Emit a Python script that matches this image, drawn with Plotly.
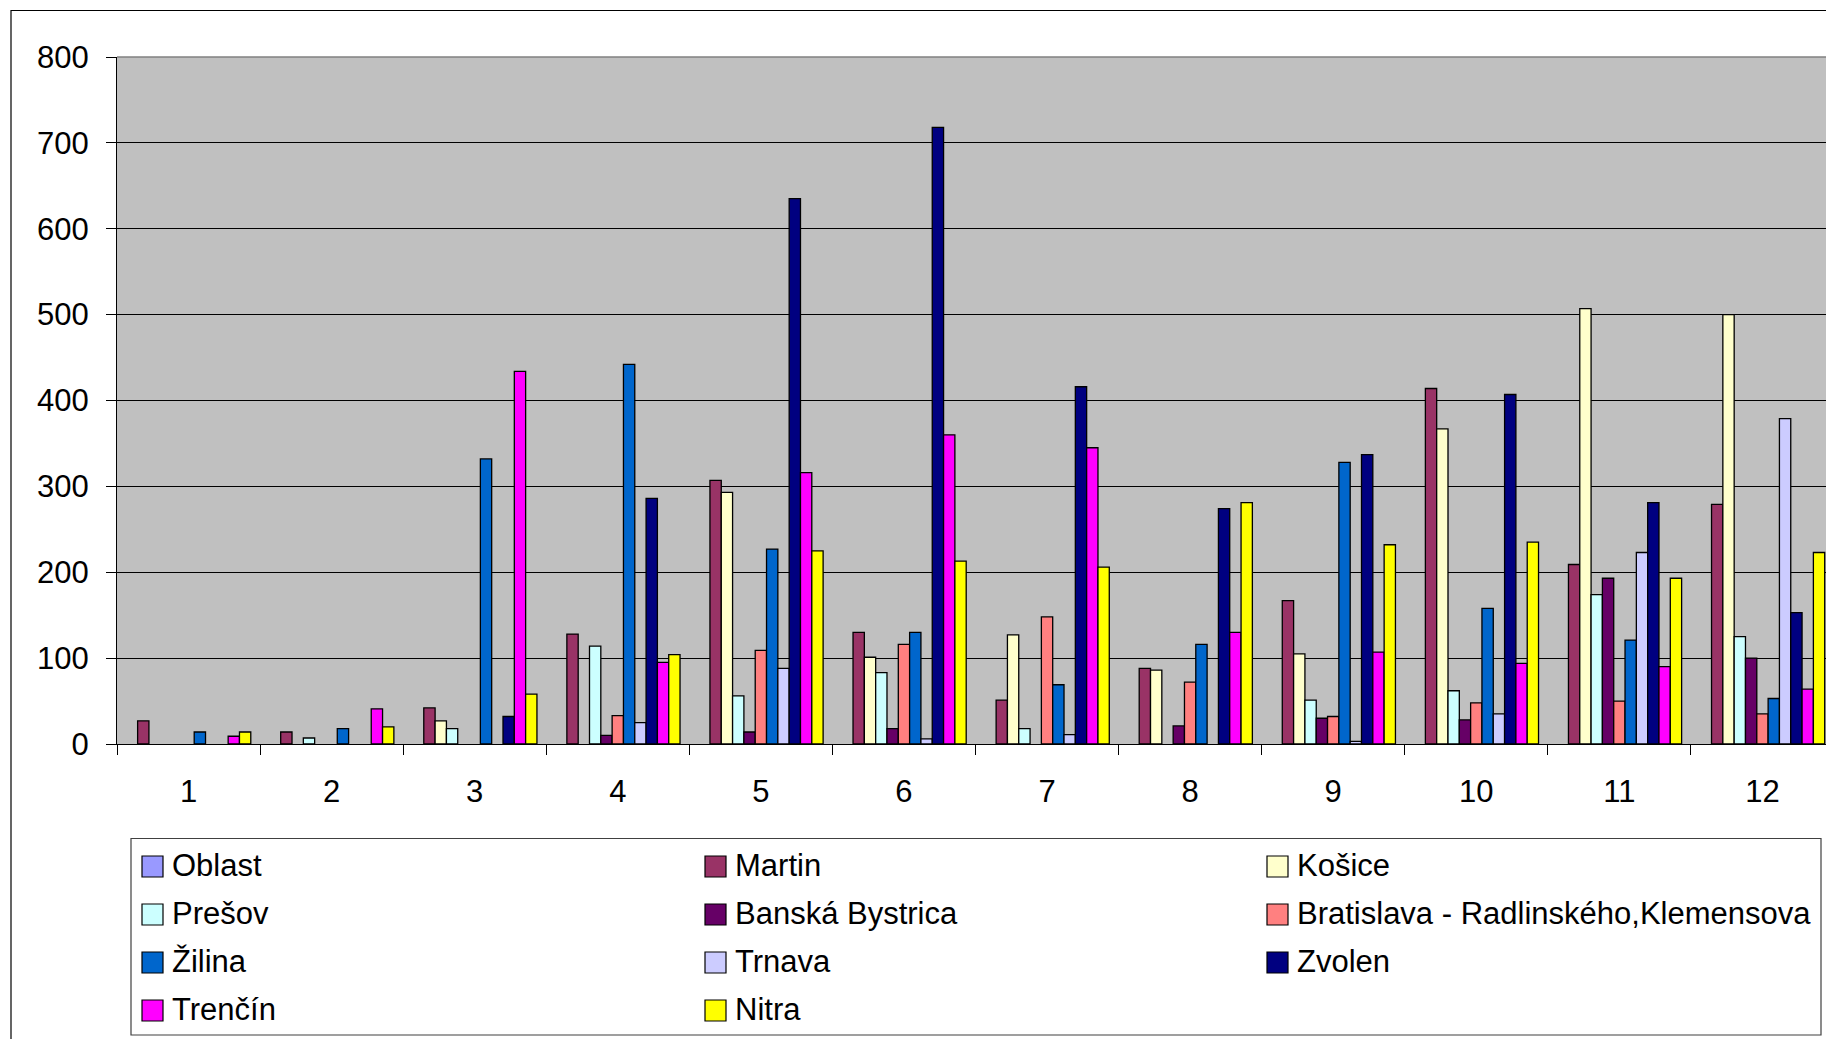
import plotly.graph_objects as go

# ---------------- data ----------------
categories = ["1", "2", "3", "4", "5", "6", "7", "8", "9", "10", "11", "12"]
series_names = ["Oblast", "Martin", "Košice", "Prešov", "Banská Bystrica",
                "Bratislava - Radlinského,Klemensova", "Žilina", "Trnava",
                "Zvolen", "Trenčín", "Nitra"]
oblast = [None, None, None, None, None, None, None, None, None, None, None, None]
martin = [27, 14, 42, 128, 307, 130, 51, 88, 167, 414, 209, 279]
kosice = [None, None, 27, None, 293, 101, 127, 86, 105, 367, 507, 500]
presov = [None, 7, 18, 114, 56, 83, 18, None, 51, 62, 174, 125]
banska_bystrica = [None, None, None, 10, 14, 18, None, 21, 30, 28, 193, 100]
bratislava = [None, None, None, 33, 109, 116, 148, 72, 32, 48, 50, 35]
zilina = [14, 18, 332, 442, 227, 130, 69, 116, 328, 158, 121, 53]
trnava = [None, None, None, 25, 88, 6, 11, None, 3, 35, 223, 379]
zvolen = [None, None, 32, 286, 635, 718, 416, 274, 337, 407, 281, 153]
trencin = [9, 41, 434, 95, 316, 360, 345, 130, 107, 94, 90, 64]
nitra = [14, 20, 58, 104, 225, 213, 206, 281, 232, 235, 193, 223]
y_tick_values = [0, 100, 200, 300, 400, 500, 600, 700, 800]

series_values = [oblast, martin, kosice, presov, banska_bystrica, bratislava,
                 zilina, trnava, zvolen, trencin, nitra]
colors = ["#9999FF", "#993366", "#FFFFCC", "#CCFFFF", "#660066", "#FF8080",
          "#0066CC", "#CCCCFF", "#000080", "#FF00FF", "#FFFF00"]

# ---------------- geometry (page pixels; page body has an 8px margin) ----------------
OFF = 8
W_FIG, H_FIG = 1834 - OFF, 1039 - OFF
PLOT_L, PLOT_T, PLOT_B = 117, 57, 744   # page coordinates of plot area
L = PLOT_L - OFF
T = PLOT_T - OFF
B = H_FIG - (PLOT_B - OFF)
PW = W_FIG - L
PH = H_FIG - T - B
FONT = "Liberation Sans, Arial, sans-serif"


def px_x(px):
    """page x pixel -> paper x"""
    return (px - OFF - L) / PW


def px_y(py):
    """page y pixel -> paper y"""
    return (T + PH - (py - OFF)) / PH


fig = go.Figure()
for name, vals, col in zip(series_names, series_values, colors):
    fig.add_trace(go.Bar(
        name=name, x=categories, y=vals,
        marker=dict(color=col, line=dict(color="#000000", width=1.3)),
        showlegend=False,
    ))

shapes = []
annotations = []

# outer chart border
shapes.append(dict(type="rect", xref="paper", yref="paper",
                   x0=px_x(11), x1=px_x(1850), y0=px_y(10.5), y1=px_y(1060),
                   line=dict(color="#000000", width=1.2), fillcolor="rgba(0,0,0,0)",
                   layer="above"))
# plot-area top border (grey)
shapes.append(dict(type="line", xref="paper", yref="paper",
                   x0=0, x1=1.01, y0=1, y1=1,
                   line=dict(color="#808080", width=1.5), layer="above"))

# legend box
shapes.append(dict(type="rect", xref="paper", yref="paper",
                   x0=px_x(131), x1=px_x(1821), y0=px_y(838.5), y1=px_y(1035),
                   line=dict(color="#404040", width=1.2), fillcolor="#FFFFFF",
                   layer="above"))
col_x = [142, 705, 1267]
row_y0, row_dy = 866.5, 48
sq = 21
for i, (name, col) in enumerate(zip(series_names, colors)):
    r, c = divmod(i, 3)
    x0 = col_x[c]
    yc = row_y0 + r * row_dy
    shapes.append(dict(type="rect", xref="paper", yref="paper",
                       x0=px_x(x0), x1=px_x(x0 + sq),
                       y0=px_y(yc - sq / 2), y1=px_y(yc + sq / 2),
                       line=dict(color="#000000", width=1.2), fillcolor=col,
                       layer="above"))
    annotations.append(dict(xref="paper", yref="paper",
                            x=px_x(x0 + 28), y=px_y(yc - 1),
                            xanchor="left", yanchor="middle",
                            text=name, showarrow=False,
                            font=dict(family=FONT, size=31, color="#000000")))

fig.update_layout(
    width=W_FIG, height=H_FIG,
    margin=dict(l=L, r=0, t=T, b=B, pad=0),
    paper_bgcolor="#FFFFFF",
    plot_bgcolor="#C0C0C0",
    barmode="group",
    bargap=0.13,
    bargroupgap=0,
    showlegend=False,
    font=dict(family=FONT, size=31, color="#000000"),
    shapes=shapes,
    annotations=annotations,
)
fig.update_xaxes(
    type="category", range=[-0.5, 11.5], automargin=False,
    showgrid=False, zeroline=False,
    showline=True, linecolor="#000000", linewidth=1,
    ticks="outside", tickson="boundaries", ticklen=10, tickcolor="#000000",
    tickwidth=1, ticklabelstandoff=20,
    tickfont=dict(family=FONT, size=31, color="#000000"),
)
fig.update_yaxes(
    range=[0, 800], tickvals=y_tick_values, automargin=False,
    showgrid=True, gridcolor="#000000", gridwidth=1, zeroline=False,
    showline=True, linecolor="#000000", linewidth=1,
    ticks="outside", ticklen=10, tickcolor="#000000", tickwidth=1,
    ticklabelstandoff=11,
    tickfont=dict(family=FONT, size=31, color="#000000"),
)

fig.write_html("out.html")
